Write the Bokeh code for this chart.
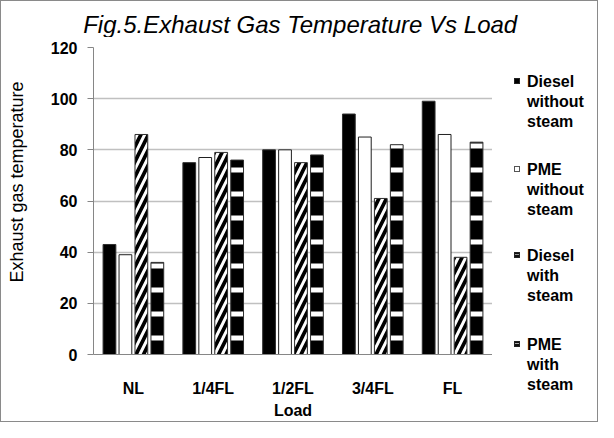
from bokeh.plotting import figure
from bokeh.layouts import row, column
from bokeh.models import FactorRange, FixedTicker, Label, ColumnDataSource, Div
from bokeh.transform import dodge
from bokeh.embed import file_html
from bokeh.resources import INLINE

loads = ["NL", "1/4FL", "1/2FL", "3/4FL", "FL"]
diesel_without = [43, 75, 80, 94, 99]
pme_without = [39, 77, 80, 85, 86]
diesel_with = [86, 79, 75, 61, 38]
pme_with = [36, 76, 78, 82, 83]
y_ticks = [0, 20, 40, 60, 80, 100, 120]
legend_lines = [["Diesel", "without", "steam"], ["PME", "without", "steam"],
                ["Diesel", "with", "steam"], ["PME", "with", "steam"]]
title_text = "Fig.5.Exhaust Gas Temperature  Vs Load"
y_label_text = "Exhaust gas temperature"

src = ColumnDataSource(dict(load=loads, dwo=diesel_without, pwo=pme_without,
                            dw=diesel_with, pw=pme_with))

FONT = "Liberation Sans"
TITLE_H = 36
H = 384
YL_W = 45

# ---- title strip ----
tf = figure(width=596, height=TITLE_H, output_backend="svg", toolbar_location=None,
            x_axis_location=None, y_axis_location=None, title_location=None,
            min_border=0, x_range=(0, 1), y_range=(0, 1))
tf.grid.visible = False
tf.outline_line_color = None
tf.add_layout(Label(x=302, y=13, x_units="screen", y_units="screen", text=title_text,
                    text_font=FONT, text_font_style="italic", text_font_size="24px",
                    text_align="center", text_baseline="middle", text_color="black"))

# ---- y axis title (HTML, rotated) ----
ylab_div = Div(
    text=(f'<div style="position:relative;width:{YL_W}px;height:{H}px;">'
          f'<div style="position:absolute;left:-94px;top:135px;width:220px;height:20px;'
          f'line-height:20px;text-align:center;white-space:nowrap;transform:rotate(-90deg);'
          f'font-family:\'{FONT}\';font-size:18px;color:#000;">{y_label_text}</div></div>'),
    width=YL_W, height=H, styles={"margin": "0", "padding": "0"})

# ---- main plot ----
p = figure(x_range=FactorRange(*loads), y_range=(0, 120),
           width=491 - YL_W, height=H, output_backend="svg", toolbar_location=None,
           title_location=None,
           min_border_left=92 - YL_W, min_border_right=0, min_border_top=10,
           min_border_bottom=66)

styles = [
    dict(fill_color="black", line_color="#303030"),
    dict(fill_color="white", line_color="#202020"),
    dict(fill_color="black", line_color="#303030",
         hatch_pattern="/", hatch_color="white", hatch_weight=3, hatch_scale=15),
    dict(fill_color="black", line_color="#303030",
         hatch_pattern="-", hatch_color="white", hatch_weight=5, hatch_scale=24),
]
cols = ["dwo", "pwo", "dw", "pw"]
offsets = [-0.3, -0.1, 0.1, 0.3]
W = 0.16
for c, off, st in zip(cols, offsets, styles):
    p.vbar(x=dodge("load", off, range=p.x_range), top=c, width=W, source=src, **st)

p.outline_line_color = None
p.xgrid.grid_line_color = None
p.ygrid.grid_line_color = "#c0c0c0"
p.ygrid.grid_line_width = 1.5
p.yaxis.ticker = FixedTicker(ticks=y_ticks)

for ax in (p.xaxis, p.yaxis):
    ax.axis_line_color = "#868686"
    ax.major_tick_line_color = "#868686"
    ax.minor_tick_line_color = None
    ax.major_label_text_font = FONT
    ax.major_label_text_font_style = "bold"
    ax.major_label_text_font_size = "16px"
    ax.major_label_text_color = "black"
    ax.axis_label_text_font = FONT
    ax.axis_label_text_color = "black"

p.yaxis.major_tick_in = 0
p.yaxis.major_tick_out = 6
p.yaxis.major_label_standoff = 10

p.xaxis.major_tick_in = 0
p.xaxis.major_tick_out = 0
p.xaxis.major_label_standoff = 25
p.xaxis.axis_label = "Load"
p.xaxis.axis_label_text_font_style = "bold"
p.xaxis.axis_label_text_font_size = "16px"
p.xaxis.axis_label_standoff = 2

# ---- legend panel (HTML) ----
swatches = [
    "background:#000;border:1px solid #222;",
    "background:#fff;border:1px solid #555;",
    "background:repeating-linear-gradient(0deg,#111 0 2px,#999 2px 3px);border:1px solid #222;",
    "background:repeating-linear-gradient(0deg,#111 0 2px,#aaa 2px 3px);border:1px solid #222;",
]
gaps = [35, 28, 26, 29]
parts = []
for lines, sw, g in zip(legend_lines, swatches, gaps):
    parts.append(
        f'<div style="position:relative;margin-top:{g}px;padding-left:35px;'
        f'line-height:20px;font-family:\'{FONT}\';font-weight:bold;font-size:16px;color:#000;">'
        f'<span style="position:absolute;left:22px;top:6px;width:6px;height:6px;{sw}"></span>'
        + "<br>".join(lines) + "</div>")
legend_div = Div(text="".join(parts), width=105, height=H,
                 styles={"margin": "0", "padding": "0"})

layout = column(tf, row(ylab_div, p, legend_div))
layout.styles = {"border": "1px solid #8a8a8a"}

open("out.html", "w").write(file_html(layout, INLINE))
